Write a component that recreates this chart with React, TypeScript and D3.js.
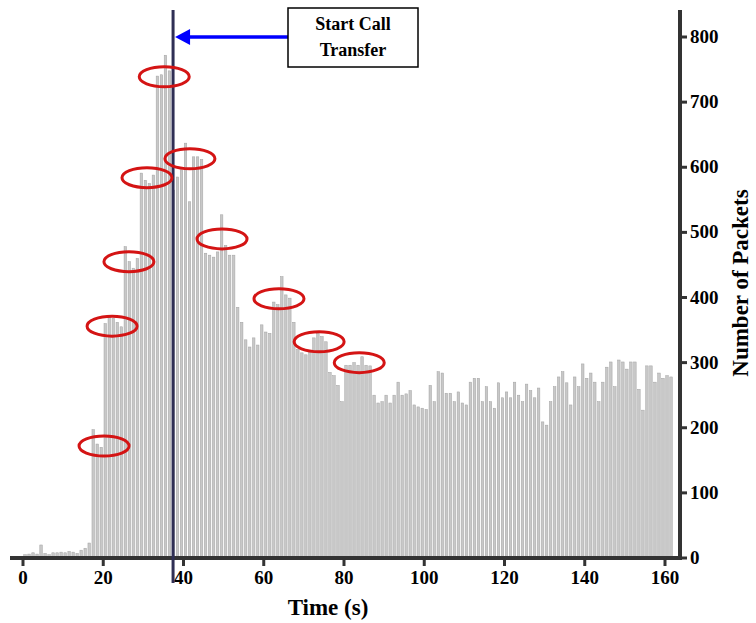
import React from "react";
import * as d3 from "d3";

const width = 756;
const height = 623;

// packets per second, t = 0 .. 161
const packets = [
  5, 6, 8, 6, 20, 7, 5, 8, 8, 9, 8, 10, 9, 7, 12, 15, 23,
  197, 175, 170, 360, 370, 368, 362, 355, 478, 455, 445, 460,
  591, 580, 575, 588, 740, 742, 772, 748, 565, 585, 596, 637,
  547, 616, 616, 612, 468, 465, 462, 470, 527, 480, 465, 465,
  385, 362, 335, 324, 338, 327, 358, 347, 345, 393, 389, 432,
  404, 399, 362, 320, 315, 312, 318, 338, 345, 340, 332, 285,
  280, 265, 240, 296, 296, 300, 296, 309, 296, 295, 250, 238,
  240, 250, 238, 250, 270, 250, 252, 257, 235, 232, 230, 228,
  265, 240, 286, 284, 253, 253, 240, 255, 238, 235, 270, 276,
  276, 240, 263, 240, 230, 269, 246, 255, 246, 270, 250, 240,
  267, 257, 246, 261, 209, 204, 240, 263, 278, 286, 269, 235,
  278, 263, 298, 276, 284, 270, 240, 270, 293, 301, 263, 304,
  301, 290, 301, 301, 259, 227, 295, 295, 270, 284, 276, 280,
  278,
];

const xTicks = [0, 20, 40, 60, 80, 100, 120, 140, 160];
const yTicks = [0, 100, 200, 300, 400, 500, 600, 700, 800];

// red ellipses marking the bursts: [time, packets]
const highlights = [
  [20.2, 172],
  [22.2, 356],
  [26.4, 455],
  [30.9, 584],
  [35.2, 739],
  [41.6, 613],
  [49.6, 490],
  [63.8, 398],
  [73.8, 332],
  [83.8, 300],
];

const transferTime = 37.4;

const font = "'Liberation Serif', 'Times New Roman', serif";

export default function App() {
  const x = d3.scaleLinear().domain([0, 160]).range([23, 665]);
  const y = d3.scaleLinear().domain([0, 800]).range([558, 37]);
  const barW = 2.5;
  const axisColor = "#333";
  const lineX = x(transferTime);

  return (
    <svg
      width={width}
      height={height}
      style={{ position: "absolute", left: 0, top: 0, background: "#fff" }}
      fontFamily={font}
    >
      {/* bars */}
      <g>
        {packets.map((v, i) => (
          <rect
            key={i}
            x={x(i + 0.5) - barW / 2}
            y={y(v)}
            width={barW}
            height={y(0) - y(v)}
            fill="#c8c8c8"
            stroke="#a2a2a2"
            strokeWidth={0.5}
          />
        ))}
      </g>

      {/* bottom axis */}
      <line x1={10} x2={682} y1={y(0)} y2={y(0)} stroke={axisColor} strokeWidth={4} />
      {xTicks.map((t) => (
        <g key={t}>
          <line x1={x(t)} x2={x(t)} y1={y(0)} y2={y(0) + 8} stroke={axisColor} strokeWidth={3} />
          <text x={x(t)} y={584} textAnchor="middle" fontSize={19} fontWeight="bold">
            {t}
          </text>
        </g>
      ))}

      {/* right axis */}
      <line x1={680} x2={680} y1={10} y2={y(0) + 2} stroke={axisColor} strokeWidth={4} />
      {yTicks.map((t) => (
        <g key={t}>
          <line x1={680} x2={687} y1={y(t)} y2={y(t)} stroke={axisColor} strokeWidth={3} />
          <text x={690} y={y(t) + 6} fontSize={19} fontWeight="bold">
            {t}
          </text>
        </g>
      ))}

      <text x={328} y={615} textAnchor="middle" fontSize={23} fontWeight="bold">
        Time (s)
      </text>
      <text
        transform="translate(748,283) rotate(-90)"
        textAnchor="middle"
        fontSize={23}
        fontWeight="bold"
      >
        Number of Packets
      </text>

      {/* call transfer marker */}
      <line x1={lineX} x2={lineX} y1={10} y2={583} stroke="#2f2f55" strokeWidth={3} />
      <line x1={288} x2={188} y1={37} y2={37} stroke="#0000ff" strokeWidth={3.5} />
      <path d={`M${lineX + 2},37 L${lineX + 17},29 L${lineX + 17},45 Z`} fill="#0000ff" />
      <rect x={288} y={8} width={130} height={59} fill="#fff" stroke="#000" strokeWidth={1.5} />
      <text x={353} y={30} textAnchor="middle" fontSize={18} fontWeight="bold">
        Start Call
      </text>
      <text x={353} y={56} textAnchor="middle" fontSize={18} fontWeight="bold">
        Transfer
      </text>

      {/* highlight ellipses */}
      {highlights.map(([t, v], i) => (
        <ellipse
          key={i}
          cx={x(t)}
          cy={y(v)}
          rx={25}
          ry={10}
          fill="none"
          stroke="#d41414"
          strokeWidth={3}
        />
      ))}
    </svg>
  );
}
